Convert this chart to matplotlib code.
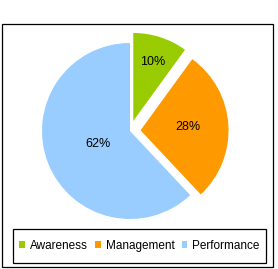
import numpy as np
import matplotlib.pyplot as plt
from matplotlib.patches import Rectangle

# Data
labels = ["Awareness", "Management", "Performance"]
shares = [10, 28, 62]
colors = ["#99cc00", "#ff9900", "#99ccff"]

plt.rcParams["font.family"] = ["Liberation Sans", "DejaVu Sans"]

fig = plt.figure(figsize=(2.78, 2.69), dpi=100)
ax = fig.add_axes([20 / 278, 28 / 269, 220 / 278, 220 / 269])

explode = [0.12, 0.12, 0.0]
wedges, texts, autotexts = ax.pie(
    shares,
    colors=colors,
    explode=explode,
    startangle=90,
    counterclock=False,
    autopct="%d%%",
    textprops={"fontsize": 9, "color": "black"},
)
ax.set_xlim(-1.25, 1.25)
ax.set_ylim(-1.25, 1.25)

# move percentage labels to match the original layout
label_dist = [0.71, 0.54, 0.39]
for w, t, d, e in zip(wedges, autotexts, label_dist, explode):
    mid = np.deg2rad((w.theta1 + w.theta2) / 2)
    cx, cy = e * np.cos(mid), e * np.sin(mid)
    t.set_position((cx + d * np.cos(mid), cy + d * np.sin(mid)))

# outer border and legend box
fig.patches.append(Rectangle((2 / 278, 2 / 269), 271 / 278, 243 / 269,
                             transform=fig.transFigure, fill=False,
                             edgecolor="black", linewidth=0.9))
fig.patches.append(Rectangle((13 / 278, 6 / 269), 253 / 278, 34 / 269,
                             transform=fig.transFigure, fill=False,
                             edgecolor="black", linewidth=0.9))

leg = fig.legend(
    wedges, labels,
    loc="center",
    bbox_to_anchor=(13 / 278, 6 / 269, 253 / 278, 34 / 269),
    ncol=3,
    fontsize=8.5,
    frameon=False,
    handlelength=0.5,
    handleheight=0.5,
    handletextpad=0.4,
    columnspacing=0.6,
    borderpad=0,
    borderaxespad=0,
)

fig.savefig("out.png", dpi=100)
plt.close()
